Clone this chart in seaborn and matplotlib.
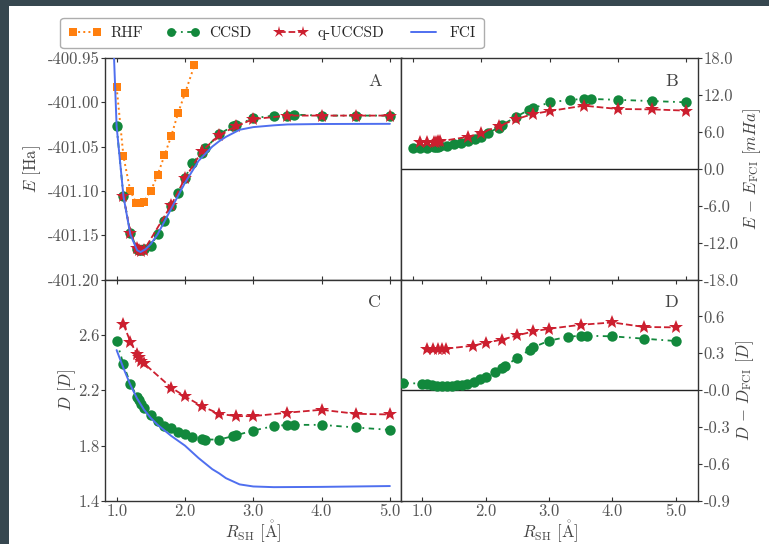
import numpy as np
import matplotlib
matplotlib.use("Agg")
import matplotlib.pyplot as plt
import seaborn as sns
from matplotlib.patches import Rectangle

# bond lengths (Angstrom)
r_ccsd = [1.0, 1.1, 1.2, 1.3, 1.33, 1.36, 1.4, 1.5, 1.6, 1.7, 1.8, 1.9, 2.0, 2.1, 2.25, 2.3,
          2.5, 2.7, 2.75, 3.0, 3.3, 3.5, 3.6, 4.0, 4.5, 5.0]
r_uccsd = [1.1, 1.2, 1.3, 1.33, 1.36, 1.4, 1.8, 2.0, 2.25, 2.5, 2.75, 3.0, 3.5, 4.0, 4.5, 5.0]
r_rhf = [1.0, 1.1, 1.2, 1.29, 1.34, 1.4, 1.5, 1.6, 1.7, 1.8, 1.9, 2.0, 2.14]
r_fci = [0.96, 1.0, 1.1, 1.2, 1.3, 1.35, 1.42, 1.5, 1.6, 1.8, 2.0, 2.2, 2.4, 2.5, 2.6, 2.8,
         3.0, 3.3, 3.5, 4.0, 5.0]

# panel A: energies (Ha)
e_rhf = [-400.983, -401.061, -401.100, -401.114, -401.114, -401.112, -401.100, -401.082,
         -401.060, -401.038, -401.012, -400.990, -400.958]
e_ccsd = [-401.027, -401.106, -401.147, -401.166, -401.167, -401.167, -401.166, -401.162,
          -401.149, -401.134, -401.117, -401.102, -401.086, -401.069, -401.057, -401.052,
          -401.036, -401.027, -401.026, -401.018, -401.015, -401.015, -401.014, -401.015,
          -401.015, -401.015]
e_uccsd = [-401.106, -401.147, -401.165, -401.167, -401.168, -401.167, -401.116, -401.086,
           -401.055, -401.037, -401.027, -401.019, -401.015, -401.015, -401.015, -401.015]
e_fci = [-400.945, -401.027, -401.106, -401.149, -401.167, -401.169, -401.166, -401.160,
         -401.149, -401.120, -401.091, -401.066, -401.050, -401.044, -401.039, -401.031,
         -401.028, -401.026, -401.025, -401.0245, -401.0243]

# panel B: E - E_FCI (mHa)
de_ccsd = [3.3, 3.4, 3.45, 3.5, 3.55, 3.6, 3.65, 3.75, 3.95, 4.2, 4.5, 4.8, 5.2, 5.8, 6.7, 7.1,
           8.4, 9.6, 9.8, 10.8, 11.2, 11.35, 11.35, 11.2, 11.0, 10.8]
de_uccsd = [4.36, 4.36, 4.36, 4.42, 4.47, 4.47, 5.18, 5.84, 6.93, 8.02, 8.89, 9.38, 10.25,
            9.71, 9.65, 9.44]

# panel C: dipole moments (Debye)
d_ccsd = [2.556, 2.387, 2.248, 2.152, 2.127, 2.103, 2.074, 2.018, 1.975, 1.945, 1.926, 1.897,
          1.885, 1.861, 1.848, 1.844, 1.844, 1.868, 1.875, 1.909, 1.941, 1.950, 1.950, 1.950,
          1.931, 1.914]
d_uccsd = [2.678, 2.552, 2.459, 2.438, 2.413, 2.394, 2.219, 2.156, 2.084, 2.030, 2.013, 2.013,
           2.038, 2.059, 2.030, 2.025]
r_dfci = [1.0, 1.1, 1.2, 1.3, 1.4, 1.5, 1.6, 1.8, 2.0, 2.2, 2.4, 2.5, 2.6, 2.8, 3.0, 3.3, 4.0, 5.0]
d_fci = [2.49, 2.36, 2.24, 2.14, 2.06, 2.00, 1.95, 1.87, 1.80, 1.71, 1.63, 1.60, 1.565, 1.52,
         1.505, 1.500, 1.502, 1.508]

# panel D: D - D_FCI (Debye)
r_dd_ccsd = [0.7, 1.0, 1.07, 1.15, 1.23, 1.31, 1.39, 1.47, 1.55, 1.62, 1.70, 1.81, 1.91, 2.0,
             2.15, 2.25, 2.31, 2.5, 2.7, 2.75, 3.0, 3.3, 3.5, 3.6, 4.0, 4.5, 5.0]
dd_ccsd = [0.059, 0.054, 0.049, 0.043, 0.038, 0.035, 0.035, 0.035, 0.041, 0.046, 0.054, 0.070,
           0.089, 0.108, 0.151, 0.184, 0.197, 0.265, 0.330, 0.349, 0.403, 0.435, 0.443, 0.443,
           0.438, 0.419, 0.400]
r_dd_uccsd = [1.08, 1.16, 1.24, 1.31, 1.37, 1.8, 2.0, 2.25, 2.5, 2.75, 3.0, 3.5, 4.0, 4.5, 5.0]
dd_uccsd = [0.338, 0.338, 0.338, 0.338, 0.338, 0.362, 0.386, 0.411, 0.446, 0.478, 0.500, 0.532,
            0.551, 0.514, 0.511]

sns.set_style("ticks")
plt.rcParams["font.family"] = ["cmr10", "DejaVu Serif"]
plt.rcParams["mathtext.fontset"] = "cm"
plt.rcParams["axes.unicode_minus"] = False
plt.rcParams["axes.formatter.use_mathtext"] = True

c_rhf = "#ff7f0e"
c_ccsd = "#12883c"
c_ucc = "#cc1f2f"
c_fci = "#4f6fef"
ccsd_dash = (3, 2.5, 1, 2.5)

fig = plt.figure(figsize=(7.69, 5.44), dpi=100)
fig.patch.set_facecolor("#36474f")
fig.add_artist(Rectangle((9 / 769, 0), 1, 1 - 6 / 544, transform=fig.transFigure,
                         facecolor="white", edgecolor="none", zorder=-10))
gs = fig.add_gridspec(2, 2, left=105 / 769, right=698 / 769, top=1 - 58 / 544,
                      bottom=1 - 501 / 544, hspace=0, wspace=0)
axA = fig.add_subplot(gs[0, 0])
axB = fig.add_subplot(gs[0, 1])
axC = fig.add_subplot(gs[1, 0])
axD = fig.add_subplot(gs[1, 1])


def ccsd(ax, x, y, label=None):
    sns.lineplot(x=x, y=y, ax=ax, color=c_ccsd, marker="o", markersize=7.5, markeredgewidth=0,
                 dashes=ccsd_dash, lw=1.3, sort=False, label=label, zorder=3)


def ucc(ax, x, y, label=None):
    sns.lineplot(x=x, y=y, ax=ax, color=c_ucc, marker="*", markersize=10.5, markeredgewidth=0,
                 linestyle="--", lw=1.3, sort=False, label=label, zorder=4)


# A
sns.lineplot(x=r_rhf, y=e_rhf, ax=axA, color=c_rhf, marker="s", markersize=6, markeredgewidth=0,
             linestyle=":", lw=1.4, sort=False, label="RHF", zorder=2)
ccsd(axA, r_ccsd, e_ccsd, "CCSD")
ucc(axA, r_uccsd, e_uccsd, "q-UCCSD")
sns.lineplot(x=r_fci, y=e_fci, ax=axA, color=c_fci, lw=1.4, sort=False, label="FCI", zorder=5)
axA.set_ylim(-401.20, -400.95)
axA.set_yticks([-401.20, -401.15, -401.10, -401.05, -401.00, -400.95])
axA.set_yticklabels(["-401.20", "-401.15", "-401.10", "-401.05", "-401.00", "-400.95"])
axA.set_ylabel("$E$ [Ha]", fontsize=12, labelpad=3)

# B
ccsd(axB, r_ccsd, de_ccsd)
ucc(axB, r_uccsd, de_uccsd)
axB.axhline(0, color="#222222", lw=1)
axB.set_ylim(-18, 18)
axB.set_yticks([-18, -12, -6, 0, 6, 12, 18])
axB.set_yticklabels(["-18.0", "-12.0", "-6.0", "0.0", "6.0", "12.0", "18.0"])
axB.set_ylabel(r"$E\,-\,E_{\mathrm{FCI}}$ [$mHa$]", fontsize=12, rotation=90, labelpad=2)

# C
ccsd(axC, r_ccsd, d_ccsd)
ucc(axC, r_uccsd, d_uccsd)
sns.lineplot(x=r_dfci, y=d_fci, ax=axC, color=c_fci, lw=1.4, sort=False, zorder=5)
axC.set_ylim(1.4, 3.0)
axC.set_yticks([1.4, 1.8, 2.2, 2.6])
axC.set_yticklabels(["1.4", "1.8", "2.2", "2.6"])
axC.set_ylabel("$D$ [$D$]", fontsize=12, labelpad=0)

# D
ccsd(axD, r_dd_ccsd, dd_ccsd)
ucc(axD, r_dd_uccsd, dd_uccsd)
axD.axhline(0, color="#222222", lw=1)
axD.set_ylim(-0.9, 0.9)
axD.set_yticks([-0.9, -0.6, -0.3, 0, 0.3, 0.6])
axD.set_yticklabels(["-0.9", "-0.6", "-0.3", "-0.0", "0.3", "0.6"])
axD.set_ylabel(r"$D\,-\,D_{\mathrm{FCI}}$ [$D$]", fontsize=12, rotation=90, labelpad=3)

xt = [1.0, 2.0, 3.0, 4.0, 5.0]
for ax in (axA, axB, axC):
    ax.set_xlim(0.83, 5.17)
axD.set_xlim(0.67, 5.35)
for ax in (axA, axB, axC, axD):
    ax.set_xticks(xt)
    ax.set_xticklabels(["1.0", "2.0", "3.0", "4.0", "5.0"])
    ax.tick_params(axis="x", direction="in", length=3, width=0.8, labelsize=12, colors="#333333",
                   labelcolor="#555555", top=True, pad=2)
    ax.tick_params(axis="y", direction="out", length=3, width=0.8, labelsize=12, colors="#333333",
                   labelcolor="#555555", pad=1)
    for s in ax.spines.values():
        s.set_visible(True)
        s.set_color("#333333")
        s.set_linewidth(1.0)
    if ax.get_legend() is not None:
        ax.get_legend().remove()
    ax.yaxis.label.set_color("#444444")
    ax.xaxis.label.set_color("#444444")

for ax in (axA, axB):
    ax.tick_params(axis="x", labelbottom=False)
    ax.set_xlabel("")
for ax in (axB, axD):
    ax.yaxis.tick_right()
    ax.yaxis.set_label_position("right")
for ax in (axC, axD):
    ax.set_xlabel(r"$R_{\mathrm{SH}}$ [$\mathring{\mathrm{A}}$]", fontsize=12, labelpad=0)

for ax, lab in zip((axA, axB, axC, axD), "ABCD"):
    ax.text(0.91, 0.93, lab, transform=ax.transAxes, ha="center", va="top", fontsize=13,
            color="#444444")

handles, labels = axA.get_legend_handles_labels()
fig.legend(handles, labels, loc="center", bbox_to_anchor=(272 / 769, 1 - 33 / 544), ncol=4,
           fontsize=11, frameon=True, fancybox=True, edgecolor="#999999", handlelength=2.2,
           numpoints=2, columnspacing=1.5, handletextpad=0.6, borderpad=0.5, borderaxespad=0,
           markerscale=0.85)

fig.savefig("out.png", dpi=100, facecolor=fig.get_facecolor())
